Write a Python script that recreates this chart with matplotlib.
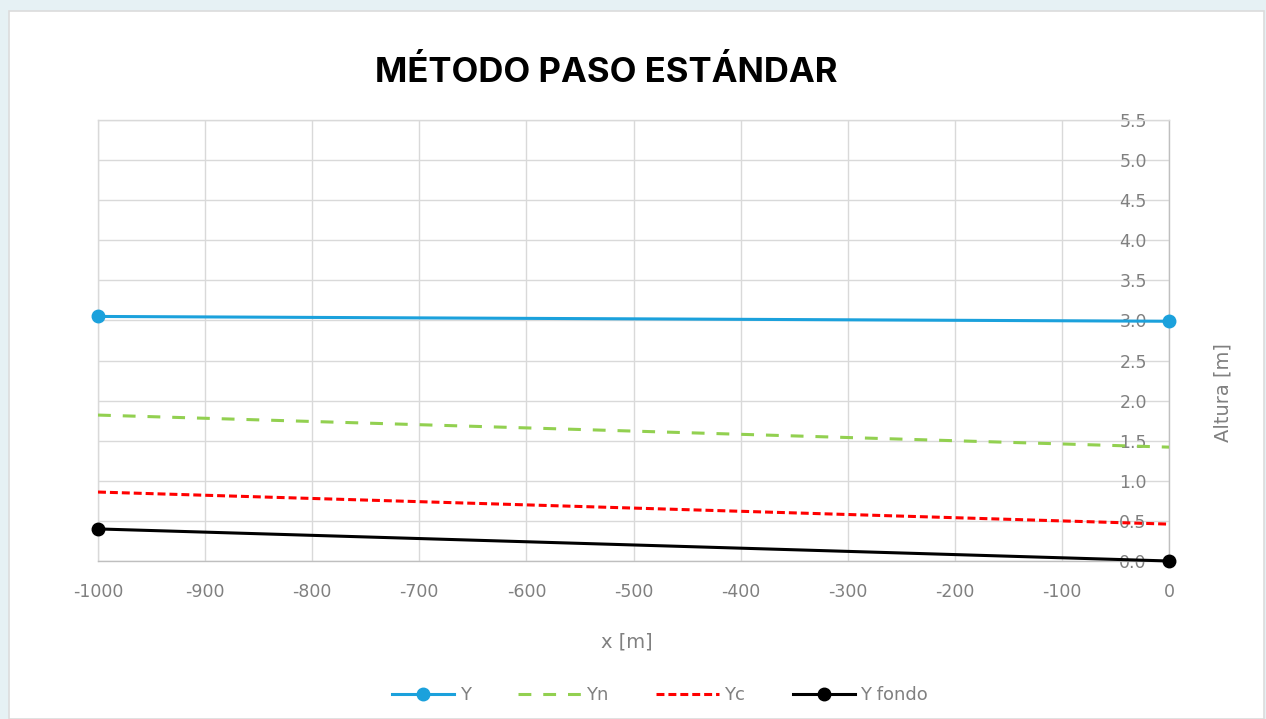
import matplotlib

matplotlib.use("Agg")
import matplotlib.pyplot as plt
from matplotlib.patches import Rectangle

# ---- data -----------------------------------------------------------------
x_m = [-1000, 0]
y_agua = [3.05, 2.99]       # Y
y_normal = [1.82, 1.42]     # Yn
y_critico = [0.86, 0.46]    # Yc
y_fondo = [0.40, 0.00]      # Y fondo

x_ticks = list(range(-1000, 1, 100))
y_ticks = [i * 0.5 for i in range(12)]

TITLE = "MÉTODO PASO ESTÁNDAR"

BLUE = "#1ba1dc"
GREEN = "#92d050"
RED = "#ff0000"
BLACK = "#000000"
GRID = "#d9d9d9"
TXT = "#808080"

plt.rcParams.update({
    "font.family": ["DejaVu Sans"],
    "font.size": 12,
    "axes.unicode_minus": False,
})

W, H = 1266, 719
fig = plt.figure(figsize=(W / 100, H / 100), dpi=100, facecolor="#e6f1f4")

# white chart panel on the pale page background
fig.patches.append(Rectangle((9 / W, 0), (1264 - 9) / W, 1 - 11 / H,
                             transform=fig.transFigure, facecolor="white",
                             edgecolor="#dcdcdc", lw=1.2, zorder=-5))

ax = fig.add_axes([98 / W, 1 - 561 / H, (1169 - 98) / W, (561 - 120) / H])
ax.set_facecolor("none")

ax.plot(x_m, y_agua, color=BLUE, lw=2.2, marker="o", ms=9,
        label="Y", zorder=5, clip_on=False)
ax.plot(x_m, y_normal, color=GREEN, lw=2.2, dashes=(4.2, 3.9),
        label="Yn", zorder=4)
ax.plot(x_m, y_critico, color=RED, lw=2.2, dashes=(2.6, 1.3),
        label="Yc", zorder=4)
ax.plot(x_m, y_fondo, color=BLACK, lw=2.2, marker="o", ms=9,
        label="Y fondo", zorder=5, clip_on=False)

ax.set_xlim(-1000, 0)
ax.set_ylim(0, 5.5)
ax.set_xticks(x_ticks)
ax.set_yticks(y_ticks)
ax.set_yticklabels(["%.1f" % v for v in y_ticks])
ax.grid(True, color=GRID, lw=1.0)
ax.set_axisbelow(True)

for side in ("left", "top"):
    ax.spines[side].set_color(GRID)
    ax.spines[side].set_linewidth(1.0)
for side in ("right", "bottom"):
    ax.spines[side].set_color("#bfbfbf")
    ax.spines[side].set_linewidth(1.0)

# y scale sits on the right edge, its labels drawn just inside the plot
ax.tick_params(axis="x", length=0, pad=16, colors=TXT, labelsize=12.5)
ax.yaxis.tick_right()
ax.tick_params(axis="y", length=0, pad=-16, colors=TXT, labelsize=12.5)
for lab in ax.get_yticklabels():
    lab.set_horizontalalignment("right")

ax.set_xlabel("x [m]", color=TXT, fontsize=14)
ax.xaxis.set_label_coords((627 - 98) / (1169 - 98), (561 - 642) / (561 - 120))
ax.xaxis.label.set_verticalalignment("center")

ax.yaxis.set_label_position("right")
ax.set_ylabel("Altura [m]", color=TXT, fontsize=14)
ax.yaxis.set_label_coords((1223 - 98) / (1169 - 98), (561 - 393) / (561 - 120))
ax.yaxis.label.set_verticalalignment("center")

fig.text(606 / W, 1 - 72 / H, TITLE, ha="center", va="center",
         fontsize=25, fontweight="bold", color="black",
         family=["Inter", "DejaVu Sans"])

fig.legend(loc="center", bbox_to_anchor=(660 / W, 1 - 695 / H), ncol=4,
           frameon=False, handlelength=3.45, columnspacing=2.65,
           handletextpad=0.3, labelcolor=TXT, fontsize=13)

fig.savefig("out.png", dpi=100, facecolor=fig.get_facecolor())
